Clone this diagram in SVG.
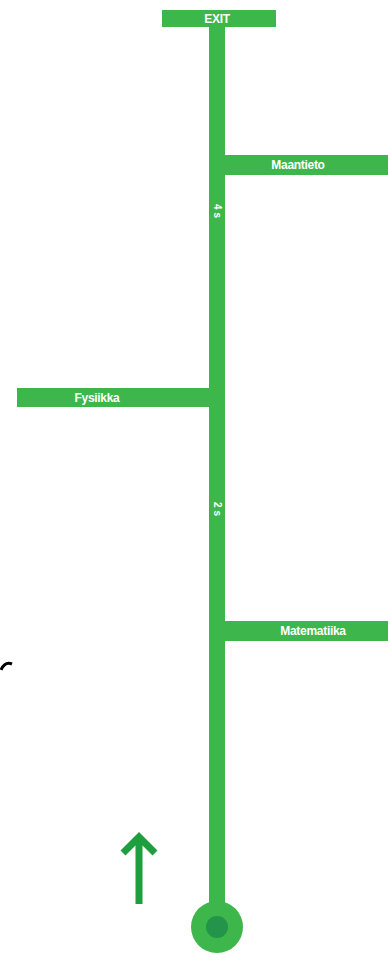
<svg xmlns="http://www.w3.org/2000/svg" width="388" height="953" viewBox="0 0 388 953">
<style>
.bar{fill:#3db64b}
.lbl{font-family:"Liberation Sans",Arial,sans-serif;font-size:12px;fill:#ffffff;font-weight:bold;text-anchor:middle;dominant-baseline:central;letter-spacing:-0.3px}
.t{font-family:"Liberation Sans",Arial,sans-serif;font-size:10px;fill:#ffffff;font-weight:bold;text-anchor:middle;dominant-baseline:central}
</style>
<rect width="388" height="953" fill="#ffffff"/>
<g id="connectors">
<rect class="bar" x="209" y="20" width="16" height="900"/>
<text class="t" transform="translate(217,211) rotate(90)">4 s</text>
<text class="t" transform="translate(217,509) rotate(90)">2 s</text>
</g>
<g id="exit">
<rect class="bar" x="162" y="10" width="114" height="17"/>
<text class="lbl" x="217" y="18.5">EXIT</text>
</g>
<g id="maantieto">
<rect class="bar" x="225" y="155" width="163" height="20"/>
<text class="lbl" x="298" y="165">Maantieto</text>
</g>
<g id="fysiikka">
<rect class="bar" x="17" y="388" width="192" height="19"/>
<text class="lbl" x="97" y="397.5">Fysiikka</text>
</g>
<g id="matematiika">
<rect class="bar" x="225" y="621" width="163" height="20"/>
<text class="lbl" x="313" y="631">Matematiika</text>
</g>
<g id="start">
<circle cx="217" cy="927" r="26" fill="#3db64b"/>
<circle cx="217" cy="927" r="11" fill="#24944a"/>
</g>
<g id="arrow">
<path d="M139,904 V838 M123,853 L139,837 L155,853" fill="none" stroke="#1f9e3f" stroke-width="7"/>
</g>
<path d="M1,670 Q5,661 12,664" fill="none" stroke="#000000" stroke-width="3"/>
</svg>
